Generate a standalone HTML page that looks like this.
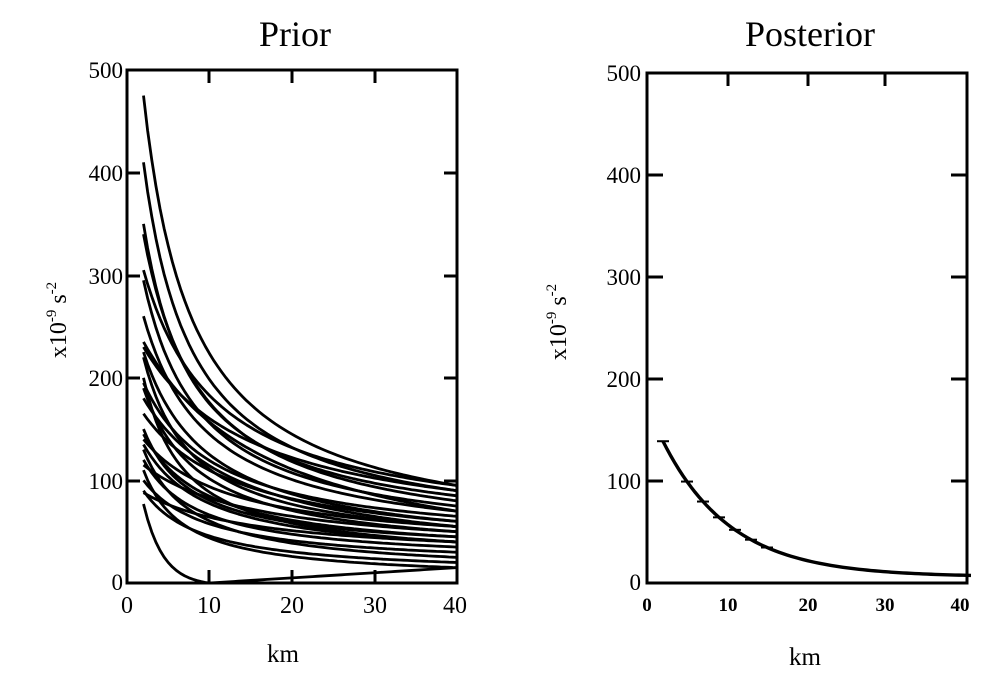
<!DOCTYPE html>
<html><head><style>
body{margin:0;background:#fff;}
svg{display:block;}
text{font-family:"Liberation Serif",serif;fill:#000;}
</style></head><body>
<svg id="s" width="991" height="682" viewBox="0 0 991 682" xmlns="http://www.w3.org/2000/svg">
<text x="295" y="46" font-size="36" text-anchor="middle">Prior</text>
<text x="810" y="46" font-size="36" text-anchor="middle">Posterior</text>
<rect x="127" y="70" width="330" height="513" fill="none" stroke="#000" stroke-width="3"/>
<g stroke="#000" stroke-width="3">
<line x1="127" y1="481" x2="140" y2="481"/><line x1="127" y1="378" x2="140" y2="378"/><line x1="127" y1="276" x2="140" y2="276"/><line x1="127" y1="173" x2="140" y2="173"/>
<line x1="457" y1="481" x2="444" y2="481"/><line x1="457" y1="378" x2="444" y2="378"/><line x1="457" y1="276" x2="444" y2="276"/><line x1="457" y1="173" x2="444" y2="173"/>
<line x1="209" y1="583" x2="209" y2="570"/><line x1="292" y1="583" x2="292" y2="570"/><line x1="375" y1="583" x2="375" y2="570"/>
<line x1="209" y1="70" x2="209" y2="83"/><line x1="292" y1="70" x2="292" y2="83"/><line x1="375" y1="70" x2="375" y2="83"/>
</g>
<g font-size="23" text-anchor="end">
<text x="123" y="78">500</text><text x="123" y="181">400</text><text x="123" y="284">300</text><text x="123" y="386">200</text><text x="123" y="489">100</text><text x="123" y="590">0</text>
</g>
<g font-size="24" text-anchor="middle">
<text x="127" y="613">0</text><text x="209" y="613">10</text><text x="292" y="613">20</text><text x="375" y="613">30</text><text x="455" y="613">40</text>
</g>
<text x="283" y="662" font-size="25" text-anchor="middle">km</text>
<text transform="translate(66,320) rotate(-90)" font-size="24" text-anchor="middle">x10<tspan dy="-10" font-size="15">-9</tspan><tspan dy="10"> s</tspan><tspan dy="-10" font-size="15">-2</tspan></text>
<g id="L" fill="none" stroke="#000" stroke-width="2.8" stroke-linejoin="round"></g>
<rect x="647" y="73" width="320" height="510" fill="none" stroke="#000" stroke-width="3"/>
<g stroke="#000" stroke-width="3">
<line x1="647" y1="481" x2="663" y2="481"/><line x1="647" y1="379" x2="663" y2="379"/><line x1="647" y1="277" x2="663" y2="277"/><line x1="647" y1="175" x2="663" y2="175"/>
<line x1="967" y1="481" x2="951" y2="481"/><line x1="967" y1="379" x2="951" y2="379"/><line x1="967" y1="277" x2="951" y2="277"/><line x1="967" y1="175" x2="951" y2="175"/>
<line x1="728" y1="73" x2="728" y2="86"/><line x1="808" y1="73" x2="808" y2="86"/><line x1="885" y1="73" x2="885" y2="86"/>
</g>
<g font-size="23" text-anchor="end">
<text x="641" y="81">500</text><text x="641" y="183">400</text><text x="641" y="285">300</text><text x="641" y="387">200</text><text x="641" y="489">100</text><text x="641" y="590">0</text>
</g>
<g font-size="19" text-anchor="middle" style="font-family:'Liberation Mono',monospace;font-weight:bold">
<text x="647" y="611">0</text><text x="728" y="611">10</text><text x="808" y="611">20</text><text x="885" y="611">30</text><text x="960" y="611">40</text>
</g>
<text x="805" y="665" font-size="25" text-anchor="middle">km</text>
<text transform="translate(566,322) rotate(-90)" font-size="24" text-anchor="middle">x10<tspan dy="-10" font-size="15">-9</tspan><tspan dy="10"> s</tspan><tspan dy="-10" font-size="15">-2</tspan></text>
<g id="R" fill="none" stroke="#000" stroke-width="3.4"></g>
</svg>
<script>
var NS="http://www.w3.org/2000/svg";
function lx(x){return 127+x*8.25} function ly(v){return 583-v*1.026}
var L=document.getElementById("L");
var cs=[[475,95,6],[410,90,6],[350,85,6],[340,80,7],[305,95,9],[295,75,7],[260,70,8],[230,90,14],[225,60,8],[220,55,6],[195,65,9],[190,50,7],[165,60,12],[145,45,8],[140,55,11],[135,40,8],[120,35,7],[115,50,14],[100,30,8],[90,20,7],[88,40,14],[150,45,6],[200,40,5],[130,25,6],[235,70,16],[180,55,12],[110,15,5]];
cs.forEach(function(c){var S=c[0],end=c[1],k=c[2];var r=1/(1+38/k);var E=(end-S*r)/(1-r);var d="";for(var x=2;x<=40;x+=0.5){var v=E+(S-E)/(1+(x-2)/k);d+=(d?"L":"M")+lx(x).toFixed(1)+","+ly(v).toFixed(1);}
var p=document.createElementNS(NS,"path");p.setAttribute("d",d);L.appendChild(p);});
var d="";for(var x=2;x<=40;x+=0.5){var v;if(x<=10)v=Math.max(0,80*Math.exp(-(x-2)/2.4)-3);else v=(x-10)*0.5;d+=(d?"L":"M")+lx(x)+","+ly(v);}
var p=document.createElementNS(NS,"path");p.setAttribute("d",d);L.appendChild(p);
var R=document.getElementById("R");
function rx(x){return 647+x*8.0} function ry(v){return 583-v*1.02}
function pv(x){return 6+133*Math.exp(-(x-2)/8.5)}
d="";for(var x=2;x<=40.5;x+=0.5){d+=(d?"L":"M")+rx(x)+","+ry(pv(x));}
p=document.createElementNS(NS,"path");p.setAttribute("d",d);R.appendChild(p);
[2,5,7,9,11,13,15].forEach(function(x){var l=document.createElementNS(NS,"line");l.setAttribute("x1",rx(x)-6);l.setAttribute("x2",rx(x)+6);l.setAttribute("y1",ry(pv(x)));l.setAttribute("y2",ry(pv(x)));l.setAttribute("stroke-width","2");R.appendChild(l);});
</script>
</body></html>
